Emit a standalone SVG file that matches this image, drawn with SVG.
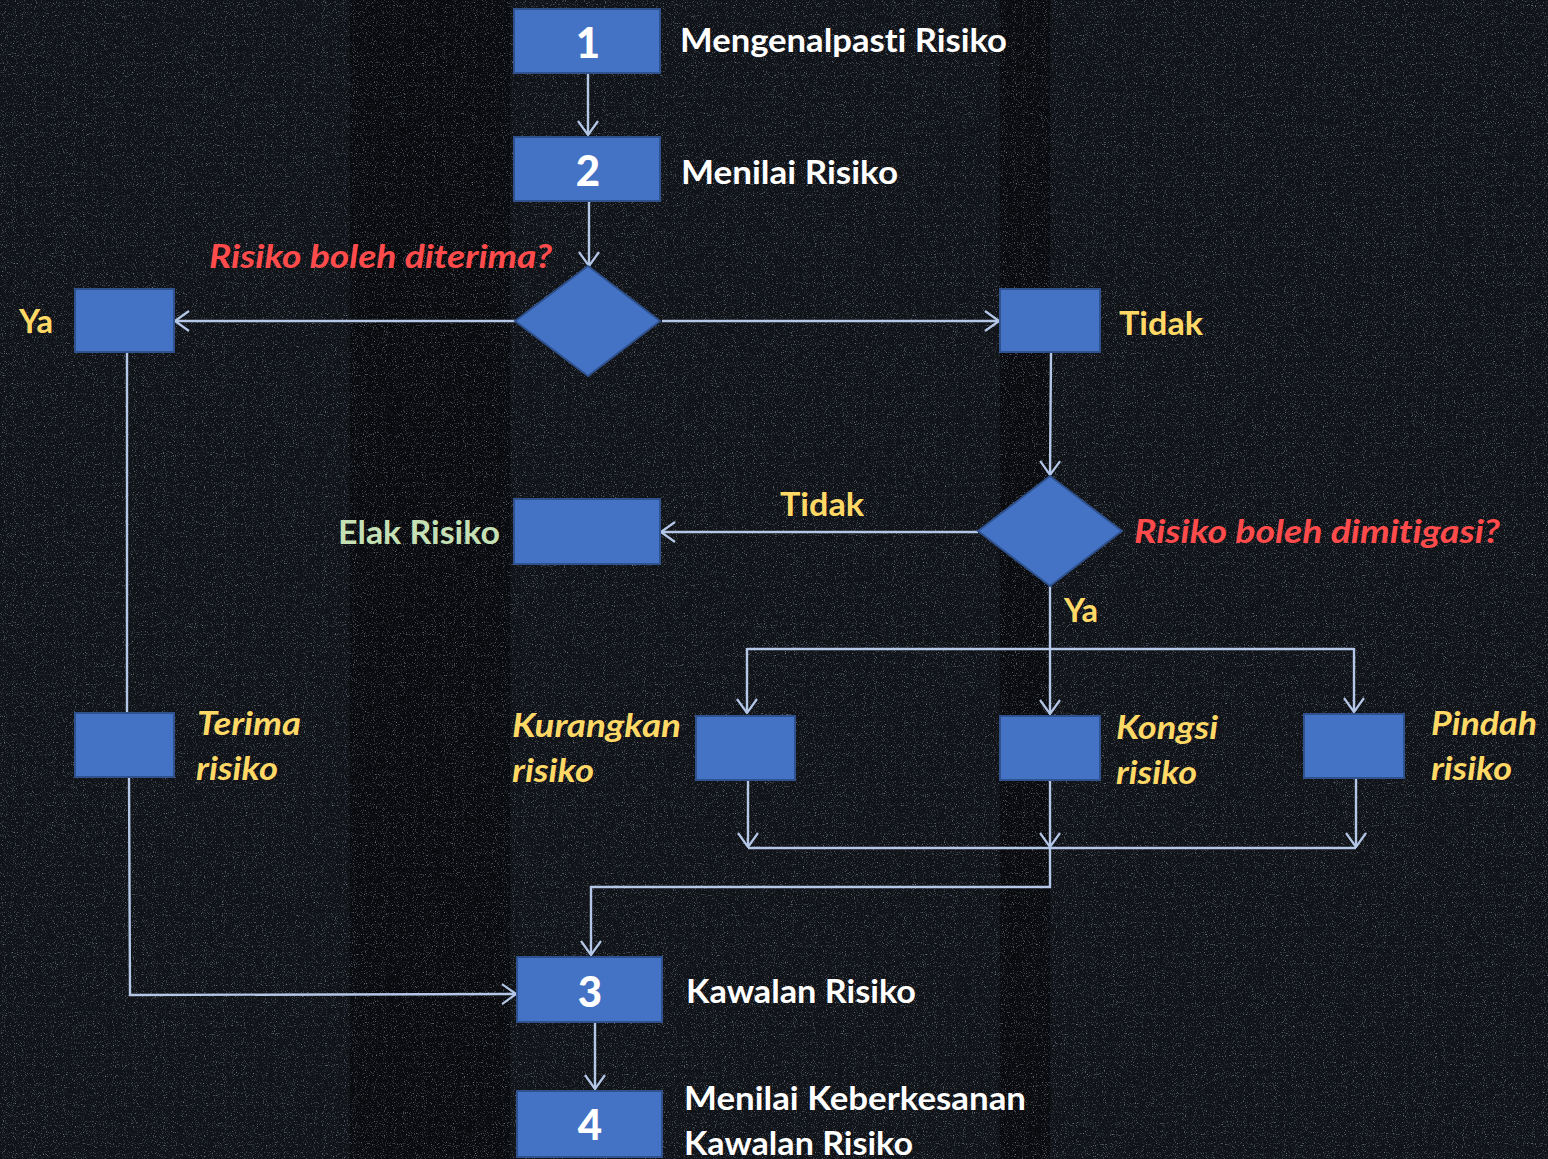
<svg xmlns="http://www.w3.org/2000/svg" width="1548" height="1159" viewBox="0 0 1548 1159">
  <defs>
    <filter id="noise" x="0" y="0" width="100%" height="100%">
      <feTurbulence type="fractalNoise" baseFrequency="0.9" numOctaves="2" seed="3" result="t"/>
      <feColorMatrix in="t" type="matrix" values="0 0 0 0 0.32  0 0 0 0 0.36  0 0 0 0 0.45  0 0 0 2.2 -1.25" result="n"/>
      <feComposite in="n" in2="SourceGraphic" operator="in"/>
    </filter>
    <marker id="arr" viewBox="0 0 16 22" refX="15" refY="11" markerWidth="16" markerHeight="22" markerUnits="userSpaceOnUse" orient="auto">
      <path d="M1,1 L15,11 L1,21" fill="none" stroke="#B4C7E7" stroke-width="2.2"/>
    </marker>
    <style>
      .box { fill: #4472C4; stroke: #2F528F; stroke-width: 2; }
      .c { fill: none; stroke: #B4C7E7; stroke-width: 2.4; }
      .ca { fill: none; stroke: #B4C7E7; stroke-width: 2.4; marker-end: url(#arr); }
      .t { font-family: Lato, "Open Sans", sans-serif; font-weight: bold; font-variant-ligatures: none; }
      .w { fill: #FFFFFF; font-size: 33px; }
      .num { fill: #FFFFFF; font-size: 42px; text-anchor: middle; font-weight: 900; }
      .y { fill: #FFD966; font-size: 32px; }
      .yi { fill: #FFD966; font-size: 32px; font-style: italic; }
      .r { fill: #FF4B4B; font-size: 32px; font-style: italic; }
      .g { fill: #C5E0B4; font-size: 32px; }
    </style>
  </defs>

  <rect width="1548" height="1159" fill="#101318"/>
  <rect x="350" y="0" width="160" height="1159" fill="#0a0b0e"/>
  <rect x="1000" y="0" width="50" height="1159" fill="#0a0b0e"/>
  <rect width="1548" height="1159" fill="#101318" filter="url(#noise)"/>

  <g id="connectors">
    <line class="ca" x1="588" y1="73" x2="588" y2="135"/>
    <line class="ca" x1="589" y1="201" x2="589" y2="266"/>
    <line class="ca" x1="515" y1="321" x2="175" y2="321"/>
    <line class="ca" x1="662" y1="321" x2="999" y2="321"/>
    <line class="ca" x1="1051" y1="353" x2="1050" y2="475"/>
    <line class="ca" x1="978" y1="532" x2="661" y2="532"/>
    <line class="c" x1="127" y1="353" x2="127" y2="713"/>
    <polyline class="ca" points="129,778 130,995 516,994"/>
    <line class="ca" x1="1050" y1="586" x2="1050" y2="714"/>
    <line class="c" x1="747" y1="649" x2="1354" y2="649"/>
    <line class="ca" x1="747" y1="648" x2="747" y2="713"/>
    <line class="ca" x1="1354" y1="648" x2="1354" y2="712"/>
    <line class="ca" x1="748" y1="781" x2="748" y2="847"/>
    <line class="ca" x1="1050" y1="781" x2="1050" y2="847"/>
    <line class="ca" x1="1356" y1="779" x2="1356" y2="847"/>
    <line class="c" x1="748" y1="848" x2="1356" y2="848"/>
    <polyline class="ca" points="1050,848 1050,887 591,887 591,955"/>
    <line class="ca" x1="595" y1="1023" x2="595" y2="1089"/>
  </g>

  <g id="n1">
    <rect class="box" x="514" y="9" width="146" height="64"/>
    <text class="t num" x="588" y="58">1</text>
    <text class="t w" x="680" y="52" textLength="327" lengthAdjust="spacingAndGlyphs">Mengenalpasti Risiko</text>
  </g>
  <g id="n2">
    <rect class="box" x="514" y="137" width="146" height="64"/>
    <text class="t num" x="588" y="186">2</text>
    <text class="t w" x="681" y="184" textLength="217" lengthAdjust="spacingAndGlyphs">Menilai Risiko</text>
  </g>
  <g id="d1">
    <polygon class="box" points="588,266 660,321 588,376 515,321"/>
    <text class="t r" x="209" y="268" textLength="343" lengthAdjust="spacingAndGlyphs">Risiko boleh diterima?</text>
  </g>
  <g id="ya1">
    <rect class="box" x="75" y="289" width="99" height="63"/>
    <text class="t y" x="19" y="333" textLength="34" lengthAdjust="spacingAndGlyphs">Ya</text>
  </g>
  <g id="tidak1">
    <rect class="box" x="1000" y="289" width="100" height="63"/>
    <text class="t y" x="1119" y="335" textLength="84" lengthAdjust="spacingAndGlyphs">Tidak</text>
  </g>
  <g id="d2">
    <polygon class="box" points="1050,476 1122,531 1050,586 978,531"/>
    <text class="t r" x="1134" y="543" textLength="366" lengthAdjust="spacingAndGlyphs">Risiko boleh dimitigasi?</text>
    <text class="t y" x="780" y="516" textLength="84" lengthAdjust="spacingAndGlyphs">Tidak</text>
    <text class="t y" x="1064" y="622" textLength="34" lengthAdjust="spacingAndGlyphs">Ya</text>
  </g>
  <g id="elak">
    <rect class="box" x="514" y="499" width="146" height="65"/>
    <text class="t g" x="338" y="544" textLength="162" lengthAdjust="spacingAndGlyphs">Elak Risiko</text>
  </g>
  <g id="terima">
    <rect class="box" x="75" y="713" width="99" height="64"/>
    <text class="t yi" x="197" y="735" textLength="104" lengthAdjust="spacingAndGlyphs">Terima</text>
    <text class="t yi" x="196" y="780" textLength="82" lengthAdjust="spacingAndGlyphs">risiko</text>
  </g>
  <g id="kurangkan">
    <rect class="box" x="696" y="716" width="99" height="64"/>
    <text class="t yi" x="512" y="737" textLength="169" lengthAdjust="spacingAndGlyphs">Kurangkan</text>
    <text class="t yi" x="512" y="782" textLength="82" lengthAdjust="spacingAndGlyphs">risiko</text>
  </g>
  <g id="kongsi">
    <rect class="box" x="1000" y="716" width="100" height="64"/>
    <text class="t yi" x="1116" y="739" textLength="102" lengthAdjust="spacingAndGlyphs">Kongsi</text>
    <text class="t yi" x="1116" y="784" textLength="81" lengthAdjust="spacingAndGlyphs">risiko</text>
  </g>
  <g id="pindah">
    <rect class="box" x="1304" y="714" width="100" height="64"/>
    <text class="t yi" x="1431" y="735" textLength="106" lengthAdjust="spacingAndGlyphs">Pindah</text>
    <text class="t yi" x="1431" y="780" textLength="81" lengthAdjust="spacingAndGlyphs">risiko</text>
  </g>
  <g id="n3">
    <rect class="box" x="517" y="957" width="145" height="65"/>
    <text class="t num" x="590" y="1007">3</text>
    <text class="t w" x="686" y="1003" textLength="230" lengthAdjust="spacingAndGlyphs">Kawalan Risiko</text>
  </g>
  <g id="n4">
    <rect class="box" x="517" y="1091" width="145" height="66"/>
    <text class="t num" x="590" y="1140">4</text>
    <text class="t w" x="684" y="1110" textLength="342" lengthAdjust="spacingAndGlyphs">Menilai Keberkesanan</text>
    <text class="t w" x="684" y="1155" textLength="229" lengthAdjust="spacingAndGlyphs">Kawalan Risiko</text>
  </g>
</svg>
